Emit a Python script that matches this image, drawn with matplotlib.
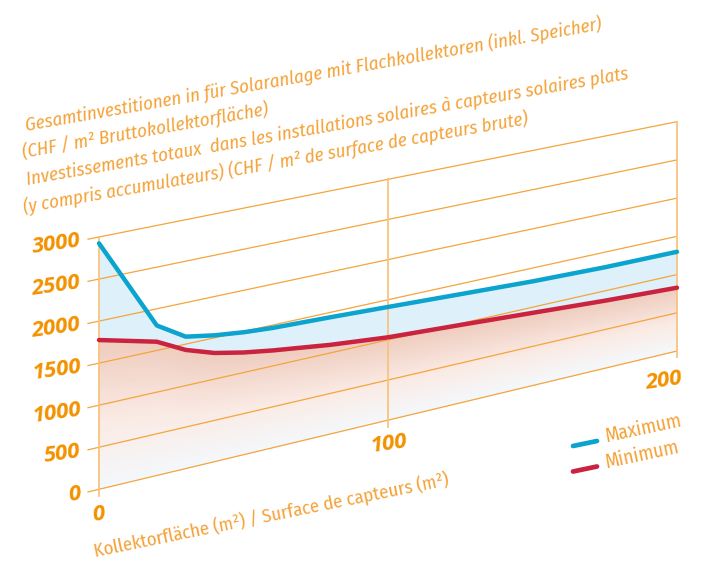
import numpy as np
import matplotlib
matplotlib.use("Agg")
import matplotlib.pyplot as plt
from matplotlib.transforms import Transform
from matplotlib.colors import LinearSegmentedColormap
from matplotlib import font_manager

# Collector area (m2) and total investment per m2 (CHF)
area = [0, 20, 30, 40, 50, 60, 80, 100, 125, 150, 175, 200]
cost_max = [2925, 1800, 1590, 1530, 1490, 1465, 1440, 1410, 1370, 1330, 1305, 1298]
cost_min = [1775, 1605, 1430, 1316, 1244, 1190, 1100, 1032, 982, 928, 873, 828]
y_ticks = [0, 500, 1000, 1500, 2000, 2500, 3000]
x_ticks = [0, 100, 200]

title_lines = [
    "Gesamtinvestitionen in für Solaranlage mit Flachkollektoren (inkl. Speicher)",
    "(CHF / m² Bruttokollektorfläche)",
    "Investissements totaux  dans les installations solaires à capteurs solaires plats",
    "(y compris accumulateurs) (CHF / m² de surface de capteurs brute)",
]
x_title = "Kollektorfläche (m²) / Surface de capteurs (m²)"
legend_labels = ["Maximum", "Minimum"]

ORANGE = "#F39200"
ORANGE_TXT = "#F4A33A"
GRID = "#F4A53C"
VGRID = "#F7C47F"
BLUE = "#0AA4CE"
RED = "#C9233F"


class Oblique(Transform):
    """Maps (area, CHF) onto a slanted, slightly converging plane in pixels."""
    input_dims = 2
    output_dims = 2
    is_separable = False
    has_inverse = False

    def __init__(self, xmax, vmax, left, right):
        super().__init__()
        self.xmax, self.vmax = xmax, vmax
        self.left, self.right = left, right  # (px, y_at_0, y_at_vmax)

    def transform_non_affine(self, values):
        values = np.asarray(values, dtype=float)
        x, v = values[:, 0], values[:, 1]
        t = x / self.xmax
        lx, l0, lt = self.left
        rx, r0, rt = self.right
        sx = lx + (rx - lx) * t
        y0 = l0 + (r0 - l0) * t
        yt = lt + (rt - lt) * t
        sy = y0 + (yt - y0) * v / self.vmax
        return np.column_stack([sx, sy])


W, H = 718, 569
fig = plt.figure(figsize=(W / 100, H / 100), dpi=100)
ax = fig.add_axes([0, 0, 1, 1])
ax.set_xlim(0, W)
ax.set_ylim(H, 0)
ax.axis("off")
ax.set_autoscale_on(False)
renderer = fig.canvas.get_renderer()

plane = Oblique(200, 3000, (99, 489.3, 237.0), (677, 351.0, 121.7)) + ax.transData


def _weight(w):
    return w if isinstance(w, (int, float)) else font_manager.weight_dict.get(w, 400)


def has_regular_italic(name):
    faces = [f for f in font_manager.fontManager.ttflist if f.name == name]
    return (any(f.style == "italic" and _weight(f.weight) == 400 for f in faces)
            and any(f.style == "normal" and _weight(f.weight) == 400 for f in faces))


LABEL_FONT = "Open Sans"
TEXT_FONT = next((n for n in ["Fira Sans Condensed", "IBM Plex Sans Condensed",
                              "Roboto Condensed", "Barlow Semi Condensed",
                              "Asap Condensed", "Archivo Narrow"]
                  if has_regular_italic(n)), "Open Sans")


def fitted_text(x, y, s, length, rot, **kw):
    """Place text whose baseline is `length` pixels long."""
    t = ax.text(x, y, s, rotation=0, rotation_mode="anchor", **kw)
    w = t.get_window_extent(renderer).width
    t.set_fontsize(t.get_fontsize() * length / w)
    t.set_rotation(rot)
    return t


# shaded area under the minimum curve
xs = np.linspace(0, 200, 201)
fs = np.linspace(0, 1, 80)
X, F = np.meshgrid(xs, fs)
V = F * np.interp(xs, area, cost_min)
salmon = LinearSegmentedColormap.from_list(
    "salmon", [(0.0, "#F4F8FC"), (0.45, "#FAEBE5"), (1.0, "#EFCCBE")])
ax.pcolormesh(X, V, F, cmap=salmon, shading="gouraud", transform=plane, zorder=1)

# band between minimum and maximum
ax.fill_between(area, cost_min, cost_max, color="#DEF0F9", lw=0,
                transform=plane, zorder=1.5)

# grid
for v in y_ticks:
    ax.plot([-3.8, 200], [v, v], color=GRID, lw=0.9, transform=plane, zorder=2)
for x in x_ticks:
    ax.plot([x, x], [-80, 3000], color=VGRID, lw=1.3, transform=plane, zorder=2)

# curves
ax.plot(area, cost_max, color=BLUE, lw=3.2, solid_capstyle="round",
        solid_joinstyle="round", transform=plane, zorder=4)
ax.plot(area, cost_min, color=RED, lw=3.2, solid_capstyle="round",
        solid_joinstyle="round", transform=plane, zorder=4)

# tick labels
tick_style = dict(color=ORANGE, fontsize=16, fontweight="bold", fontstyle="italic",
                  family=LABEL_FONT, rotation=8, rotation_mode="anchor", zorder=5)
for v in y_ticks:
    ax.text(-6.4, v, f"{v}", transform=plane, ha="right", va="center", **tick_style)
for x in x_ticks:
    ax.text(x if x < 200 else 195.5, -300 if x < 200 else -350, f"{x}",
            transform=plane, ha="center", va="center", **tick_style)

# titles
title_style = dict(ha="left", va="baseline", color=ORANGE_TXT, fontsize=12,
                   fontstyle="italic", fontweight="normal", family=TEXT_FONT)
first = fitted_text(26, 131, title_lines[0], 585, 10, **title_style)
title_style["fontsize"] = first.get_fontsize()
starts = [(23, 158), (27, 185), (24, 213)]
for (tx, ty), s in zip(starts, title_lines[1:]):
    ax.text(tx, ty, s, rotation=10, rotation_mode="anchor", **title_style)

fitted_text(95, 557, x_title, 364, 11.5, ha="left", va="baseline", color=ORANGE_TXT,
            fontsize=12, fontweight="normal", family=TEXT_FONT)

# legend
leg_size = None
for (y1, y2), lab, col in zip([(446, 441), (471.5, 466.5)], legend_labels, [BLUE, RED]):
    ax.plot([573, 597], [y1, y2], color=col, lw=3.4, solid_capstyle="round", zorder=5)
    if leg_size is None:
        t = fitted_text(607, y1 - 4, lab, 78, 12, ha="left", va="baseline",
                        color=ORANGE_TXT, fontsize=12, fontweight="normal", family=TEXT_FONT)
        leg_size = t.get_fontsize()
    else:
        ax.text(607, y1 - 4, lab, ha="left", va="baseline", rotation=12,
                rotation_mode="anchor", color=ORANGE_TXT, fontsize=leg_size,
                fontweight="normal", family=TEXT_FONT)

fig.savefig("out.png", dpi=100)
